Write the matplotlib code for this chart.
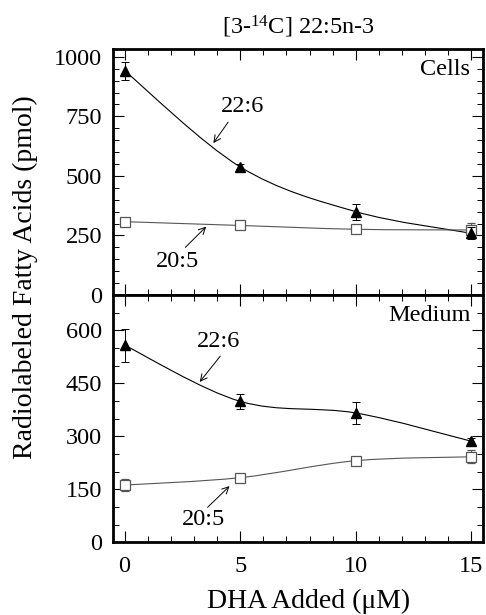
import numpy as np
import matplotlib
matplotlib.use("Agg")
import matplotlib.pyplot as plt
from matplotlib.path import Path
from matplotlib.patches import PathPatch
from matplotlib.ticker import MultipleLocator

plt.rcParams['font.family'] = ['Liberation Serif', 'DejaVu Serif']
plt.rcParams['mathtext.fontset'] = 'custom'
plt.rcParams['mathtext.rm'] = 'Liberation Serif'
plt.rcParams['mathtext.it'] = 'Liberation Serif:italic'

# ---- data ----
dha = [0, 5, 10, 15]
cells_226 = [942, 538, 350, 259]
cells_226_err = [38, 10, 33, 25]
cells_205 = [308, 292, 276, 273]
cells_205_err = [10, 10, 10, 28]
med_226 = [558, 399, 366, 286]
med_226_err = [47, 22, 32, 10]
med_205 = [162, 183, 231, 242]
med_205_err = [18, 10, 10, 18]

title = '[3-$^{14}$C] 22:5n-3'
xlabel = 'DHA Added (μM)'
ylabel = 'Radiolabeled Fatty Acids (pmol)'

FS = 17.5
fig = plt.figure(figsize=(4.86, 6.15), dpi=100)
L, W = 113/486, 370/486
ax1 = fig.add_axes([L, 1-295/615, W, 246/615])
ax2 = fig.add_axes([L, 1-542.3/615, W, 247.3/615])


def smooth_path(ax, xs, ys, **kw):
    xs = np.asarray(xs, float); ys = np.asarray(ys, float)
    P = np.column_stack([xs, ys])
    Pe = np.vstack([P[0], P, P[-1]])
    verts = [P[0]]
    codes = [Path.MOVETO]
    for i in range(len(P)-1):
        p0, p1, p2, p3 = Pe[i], Pe[i+1], Pe[i+2], Pe[i+3]
        c1 = p1 + (p2 - p0)/6
        c2 = p2 - (p3 - p1)/6
        verts += [c1, c2, p2]
        codes += [Path.CURVE4]*3
    ax.add_patch(PathPatch(Path(verts, codes), fill=False, **kw))


def panel(ax, y226, e226, y205, e205, ylim, major, minor):
    smooth_path(ax, dha, y226, lw=0.8, edgecolor='black', zorder=2)
    smooth_path(ax, dha, y205, lw=0.8, edgecolor='#555555', zorder=2)
    ax.errorbar(dha, y205, yerr=e205, fmt='s', ms=7, mfc='white', mec='#555555',
                mew=0.9, ecolor='#555555', elinewidth=0.7, capsize=3, capthick=0.7, zorder=3)
    ax.errorbar(dha, y226, yerr=e226, fmt='^', ms=7.5, mfc='black', mec='black',
                ecolor='black', elinewidth=0.7, capsize=3, capthick=0.7, zorder=4)
    ax.set_xlim(-0.5, 15.5)
    ax.set_ylim(*ylim)
    ax.set_xticks(dha)
    ax.xaxis.set_minor_locator(MultipleLocator(1))
    ax.yaxis.set_major_locator(MultipleLocator(major))
    ax.yaxis.set_minor_locator(MultipleLocator(minor))
    ax.tick_params(which='both', direction='in', top=True, right=True, labelsize=FS)
    ax.tick_params(which='major', length=8, width=0.8)
    ax.tick_params(which='minor', length=4, width=0.7)
    ax.tick_params(axis='y', pad=8)
    ax.tick_params(axis='x', pad=10)
    for s in ax.spines.values():
        s.set_linewidth(2)


panel(ax1, cells_226, cells_226_err, cells_205, cells_205_err, (0, 1033), 250, 50)
panel(ax2, med_226, med_226_err, med_205, med_205_err, (0, 700), 150, 50)
ax1.set_yticks([0, 250, 500, 750, 1000])
ax1.tick_params(axis='x', labelbottom=False)

arrow = dict(arrowstyle='->', lw=0.7, color='black', shrinkA=0, shrinkB=0, mutation_scale=12)
ax1.text(5.09, 793, '22:6', fontsize=FS, ha='center', va='center')
ax1.annotate('', xy=(3.84, 638), xytext=(4.48, 726), arrowprops=arrow)
ax1.text(2.27, 140, '20:5', fontsize=FS, ha='center', va='center')
ax1.annotate('', xy=(3.53, 287), xytext=(2.63, 200), arrowprops=arrow)
ax1.text(14.95, 946, 'Cells', fontsize=FS, ha='right', va='center')

ax2.text(4.07, 567, '22:6', fontsize=FS, ha='center', va='center')
ax2.annotate('', xy=(3.25, 454), xytext=(4.14, 527), arrowprops=arrow)
ax2.text(3.42, 65, '20:5', fontsize=FS, ha='center', va='center')
ax2.annotate('', xy=(4.54, 159), xytext=(3.59, 99), arrowprops=arrow)
ax2.text(14.95, 641, 'Medium', fontsize=FS, ha='right', va='center')

fig.text(298/486, 1-27/615, title, fontsize=FS, ha='center', va='center')
fig.text(309/486, 1-601/615, xlabel, fontsize=20, ha='center', va='center')
fig.text(25/486, 1-277/615, ylabel, fontsize=20, ha='center', va='center', rotation=90)

fig.savefig('out.png', dpi=100)
